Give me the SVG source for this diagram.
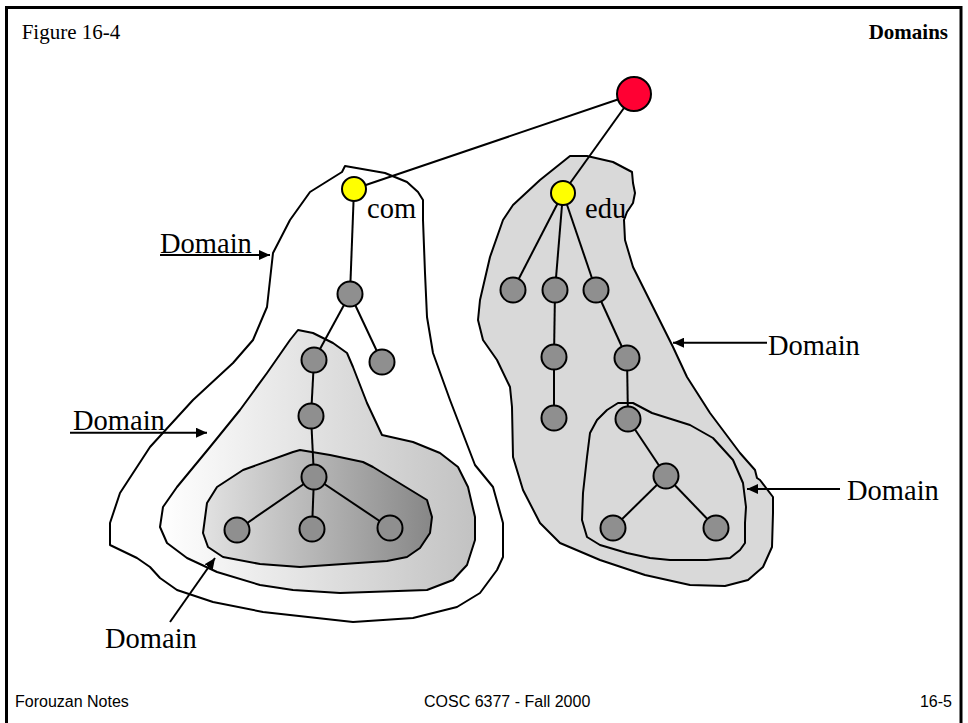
<svg xmlns="http://www.w3.org/2000/svg" width="968" height="723" viewBox="0 0 968 723">
<defs>
<style>
.dom{stroke:#000;stroke-width:2;stroke-linejoin:round}
.edge{stroke:#000;stroke-width:2;fill:none}
.arr{stroke:#000;stroke-width:2;fill:none;marker-end:url(#ah)}
.n{fill:#8f8f8f;stroke:#000;stroke-width:2}
.y{fill:#ffff00;stroke:#000;stroke-width:2}
.r{fill:#ff0033;stroke:#000;stroke-width:2}
.lbl{font-family:"Liberation Serif","Times New Roman",serif;font-size:28.5px;fill:#000}
.ttl{font-family:"Liberation Serif","Times New Roman",serif;font-size:21px;fill:#000}
.ft{font-family:"Liberation Sans",Arial,sans-serif;font-size:16px;fill:#000}
</style>
<marker id="ah" markerUnits="userSpaceOnUse" markerWidth="12" markerHeight="10" refX="11" refY="5" orient="auto">
<path d="M0,0 L11,5 L0,10 Z" fill="#000"/>
</marker>
<linearGradient id="gMid" x1="0" y1="0" x2="1" y2="0">
<stop offset="0" stop-color="#ffffff"/>
<stop offset="1" stop-color="#c2c2c2"/>
</linearGradient>
<linearGradient id="gIn" x1="0" y1="0" x2="1" y2="0">
<stop offset="0" stop-color="#e2e2e2"/>
<stop offset="1" stop-color="#878787"/>
</linearGradient>
</defs>
<rect x="0" y="0" width="968" height="723" fill="#fff"/>
<rect x="6.5" y="7.5" width="954.5" height="730" fill="none" stroke="#000" stroke-width="3"/>

<g id="domain-com-outer">
<polygon class="dom" fill="#fff" points="345,166 385,173 407,182 418,192 423,200 423,220 425,273 427,317 433,353 450,400 475,465 493,487 503,523 503,557 497,570 480,593 457,607 413,618 353,622 263,612 213,602 177,590 160,578 150,567 137,558 110,545 110,523 120,493 150,447 193,400 233,363 253,340 267,307 270,280 273,253 290,220 310,192 342,172"/>
</g>
<g id="domain-com-mid">
<polygon class="dom" fill="url(#gMid)" points="298,330 313,333 333,343 347,353 353,367 367,403 382,435 413,442 440,453 458,467 468,487 475,517 475,540 467,565 453,580 427,590 340,593 293,590 260,585 217,572 187,558 167,543 160,527 163,507 177,487 210,447 240,410 267,373 290,340"/>
</g>
<g id="domain-com-inner">
<polygon class="dom" fill="url(#gIn)" points="300,450 330,455 363,462 373,467 427,500 432,517 430,533 420,548 407,557 387,561 300,567 260,564 223,557 208,547 203,533 207,503 217,487 243,470 293,452"/>
</g>
<g id="domain-edu-outer">
<polygon class="dom" fill="#d9d9d9" points="570,156 587,156 613,162 632,172 633,183 635,193 633,203 627,212 624,220 625,240 633,267 653,307 673,347 687,377 710,413 740,453 755,470 757,478 760,480 773,497 773,513 772,547 763,567 748,580 725,586 690,585 645,575 600,560 560,543 540,523 523,490 513,457 512,407 510,387 497,360 483,340 478,320 480,300 490,257 503,220 513,205 540,180"/>
</g>
<g id="domain-edu-inner">
<polygon class="dom" fill="#d9d9d9" points="618,403 633,403 652,413 690,425 713,438 733,460 743,483 746,507 745,523 745,543 740,550 730,558 707,560 670,560 650,558 627,553 600,545 587,537 582,520 583,493 587,457 590,433 597,420 607,410"/>
</g>

<g id="connectors">
<line class="edge" x1="634" y1="94" x2="354" y2="189"/>
<line class="edge" x1="634" y1="94" x2="563" y2="193"/>
<line class="edge" x1="354" y1="189" x2="350" y2="294"/>
<line class="edge" x1="350" y1="294" x2="314" y2="360"/>
<line class="edge" x1="350" y1="294" x2="382" y2="362"/>
<line class="edge" x1="314" y1="360" x2="311" y2="416"/>
<line class="edge" x1="311" y1="416" x2="314" y2="477"/>
<line class="edge" x1="314" y1="477" x2="237" y2="530"/>
<line class="edge" x1="314" y1="477" x2="312" y2="529"/>
<line class="edge" x1="314" y1="477" x2="390" y2="528"/>
<line class="edge" x1="563" y1="193" x2="513" y2="290"/>
<line class="edge" x1="563" y1="193" x2="555" y2="290"/>
<line class="edge" x1="563" y1="193" x2="596" y2="290"/>
<line class="edge" x1="555" y1="290" x2="554" y2="357"/>
<line class="edge" x1="554" y1="357" x2="554" y2="418"/>
<line class="edge" x1="596" y1="290" x2="627" y2="358"/>
<line class="edge" x1="627" y1="358" x2="628" y2="419"/>
<line class="edge" x1="628" y1="419" x2="666" y2="476"/>
<line class="edge" x1="666" y1="476" x2="613" y2="528"/>
<line class="edge" x1="666" y1="476" x2="716" y2="528"/>
<line class="arr" x1="160" y1="255" x2="270" y2="255"/>
<line class="arr" x1="70" y1="432.7" x2="207" y2="432.7"/>
<line class="arr" x1="170" y1="622" x2="215" y2="558"/>
<line class="arr" x1="767" y1="342.7" x2="673" y2="342.7"/>
<line class="arr" x1="840" y1="489" x2="747" y2="489"/>
</g>

<g id="root"><circle class="r" cx="634" cy="94" r="17"/></g>
<g id="com"><circle class="y" cx="354" cy="189" r="12"/><text class="lbl" x="367" y="218">com</text></g>
<g id="edu"><circle class="y" cx="563" cy="193" r="12"/><text class="lbl" x="585" y="218">edu</text></g>
<g id="c1"><circle class="n" cx="350" cy="294" r="12.5"/></g>
<g id="c2"><circle class="n" cx="314" cy="360" r="12.5"/></g>
<g id="c3"><circle class="n" cx="382" cy="362" r="12.5"/></g>
<g id="c4"><circle class="n" cx="311" cy="416" r="12.5"/></g>
<g id="c5"><circle class="n" cx="314" cy="477" r="12.5"/></g>
<g id="c6"><circle class="n" cx="237" cy="530" r="12.5"/></g>
<g id="c7"><circle class="n" cx="312" cy="529" r="12.5"/></g>
<g id="c8"><circle class="n" cx="390" cy="528" r="12.5"/></g>
<g id="e1"><circle class="n" cx="513" cy="290" r="12.5"/></g>
<g id="e2"><circle class="n" cx="555" cy="290" r="12.5"/></g>
<g id="e3"><circle class="n" cx="596" cy="290" r="12.5"/></g>
<g id="e4"><circle class="n" cx="554" cy="357" r="12.5"/></g>
<g id="e5"><circle class="n" cx="627" cy="358" r="12.5"/></g>
<g id="e6"><circle class="n" cx="554" cy="418" r="12.5"/></g>
<g id="e7"><circle class="n" cx="628" cy="419" r="12.5"/></g>
<g id="e8"><circle class="n" cx="666" cy="476" r="12.5"/></g>
<g id="e9"><circle class="n" cx="613" cy="528" r="12.5"/></g>
<g id="e10"><circle class="n" cx="716" cy="528" r="12.5"/></g>

<g id="labels">
<text class="lbl" x="160" y="253">Domain</text>
<text class="lbl" x="73" y="430">Domain</text>
<text class="lbl" x="105" y="648">Domain</text>
<text class="lbl" x="768" y="355">Domain</text>
<text class="lbl" x="847" y="500">Domain</text>
<text class="ttl" x="21.7" y="39">Figure 16-4</text>
<text class="ttl" x="948" y="39" text-anchor="end" font-weight="bold" font-size="24">Domains</text>
<text class="ft" x="15" y="707">Forouzan Notes</text>
<text class="ft" x="424" y="707">COSC 6377 - Fall 2000</text>
<text class="ft" x="952" y="707" text-anchor="end">16-5</text>
</g>
</svg>
